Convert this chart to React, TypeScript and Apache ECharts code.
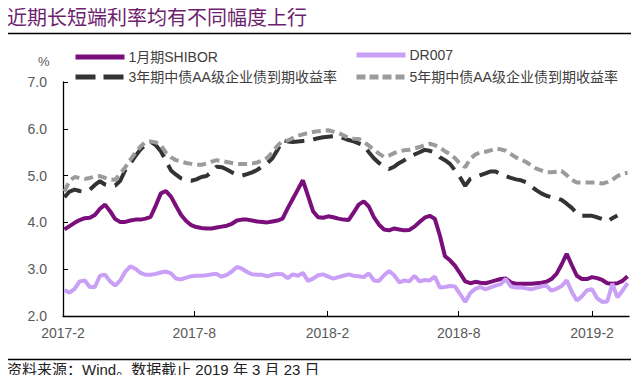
import React, { useEffect, useRef } from "react";
import * as echarts from "echarts";

const TITLE = "近期长短端利率均有不同幅度上行";
const SOURCE = "资料来源：Wind。数据截止 2019 年 3 月 23 日";
const UNIT = "%";
const SERIES_NAMES = [
  "1月期SHIBOR",
  "DR007",
  "3年期中债AA级企业债到期收益率",
  "5年期中债AA级企业债到期收益率",
];
// days since 2017-02-01
const X_TICK_DAYS = [0, 181, 365, 546, 730];
const X_TICK_LABELS = ["2017-2", "2017-8", "2018-2", "2018-8", "2019-2"];
const X_MAX_DAY = 781;
const FIRST_DAY = 2; // 2017-02-03
const STEP_DAYS = 7; // weekly observations
const Y_MIN = 2;
const Y_MAX = 7;
const Y_STEP = 1;

const shibor1m = [
  3.85, 3.92, 3.99, 4.05, 4.09, 4.1, 4.16, 4.29, 4.38, 4.24,
  4.07, 4.01, 4.01, 4.04, 4.06, 4.06, 4.08, 4.12, 4.36, 4.62,
  4.67, 4.55, 4.35, 4.16, 4.03, 3.94, 3.9, 3.88, 3.87, 3.87,
  3.89, 3.91, 3.93, 3.97, 4.04, 4.06, 4.06, 4.04, 4.02, 4.01,
  4.0, 4.02, 4.04, 4.08, 4.3, 4.5, 4.7, 4.9, 4.57, 4.24,
  4.11, 4.1, 4.13, 4.11, 4.08, 4.06, 4.05, 4.21, 4.38, 4.45,
  4.34, 4.11, 3.95, 3.85, 3.83, 3.87, 3.85, 3.83, 3.84, 3.91,
  4.01, 4.1, 4.14, 4.08, 3.72, 3.28, 3.19, 3.07, 2.91, 2.74,
  2.7, 2.73, 2.71, 2.7, 2.73, 2.76, 2.79, 2.8, 2.72, 2.69,
  2.69, 2.69, 2.69, 2.7, 2.71, 2.73, 2.79, 2.9, 3.1, 3.33,
  3.09, 2.86, 2.79, 2.79, 2.83, 2.81, 2.77, 2.7, 2.69, 2.7,
  2.75, 2.85,
];

const dr007 = [
  2.55, 2.5, 2.58, 2.74, 2.76, 2.62, 2.62, 2.86, 2.88, 2.74,
  2.65, 2.76, 2.95, 3.06, 3.01, 2.92, 2.88, 2.88, 2.9, 2.93,
  2.95, 2.91, 2.8, 2.78, 2.82, 2.85, 2.86, 2.86, 2.87, 2.89,
  2.9, 2.84, 2.88, 2.95, 3.05, 3.01, 2.94, 2.89, 2.88, 2.88,
  2.85, 2.88, 2.9, 2.89, 2.81, 2.89, 2.86, 2.92, 2.75, 2.8,
  2.87, 2.89, 2.84, 2.8, 2.83, 2.86, 2.89, 2.86, 2.85, 2.83,
  2.91, 2.76, 2.75, 2.87, 2.96, 2.87, 2.72, 2.76, 2.74, 2.86,
  2.74, 2.77, 2.76, 2.84, 2.61, 2.62, 2.64, 2.63, 2.47, 2.3,
  2.49, 2.58, 2.62, 2.57, 2.61, 2.65, 2.68, 2.79, 2.63, 2.61,
  2.61, 2.59, 2.57, 2.6, 2.63, 2.65, 2.54, 2.58, 2.64, 2.76,
  2.52, 2.33, 2.42, 2.55, 2.57, 2.38, 2.3, 2.31, 2.69, 2.4,
  2.54, 2.7,
];

const aa3y = [
  4.54, 4.66, 4.7, 4.67, 4.66, 4.7, 4.8, 4.88, 4.81, 4.78,
  4.79, 4.89, 5.12, 5.26, 5.42, 5.56, 5.66, 5.72, 5.65, 5.52,
  5.32, 5.11, 5.02, 4.94, 4.9, 4.89, 4.92, 4.97, 4.99, 5.08,
  5.19, 5.18, 5.13, 5.07, 5.02, 5.0, 5.03, 5.07, 5.12, 5.2,
  5.27, 5.37, 5.55, 5.76, 5.73, 5.72, 5.73, 5.74, 5.75, 5.77,
  5.8, 5.82, 5.83, 5.84, 5.84, 5.8, 5.76, 5.73, 5.69, 5.65,
  5.5, 5.37, 5.27, 5.2, 5.14, 5.19, 5.27, 5.33, 5.4, 5.45,
  5.5, 5.55, 5.53, 5.49, 5.39, 5.33, 5.25, 5.11, 4.96, 4.78,
  4.93, 4.97, 5.01, 5.05, 5.09, 5.09, 5.03, 4.99, 4.95, 4.92,
  4.9, 4.86, 4.77, 4.69, 4.62, 4.57, 4.54, 4.52, 4.48, 4.4,
  4.31, 4.2, 4.14, 4.14, 4.14, 4.11, 4.07, 4.02, 4.09, 4.15,
];

const aa5y = [
  4.66, 4.89, 4.97, 4.95, 4.93, 4.95, 4.98, 4.99, 4.95, 4.92,
  4.91, 5.04, 5.18, 5.34, 5.49, 5.62, 5.72, 5.73, 5.71, 5.65,
  5.49, 5.39, 5.33, 5.3, 5.27, 5.25, 5.23, 5.23, 5.26, 5.3,
  5.33, 5.31, 5.29, 5.27, 5.25, 5.25, 5.25, 5.26, 5.28, 5.32,
  5.38, 5.5, 5.64, 5.74, 5.75, 5.8, 5.85, 5.88, 5.91, 5.93,
  5.95, 5.96, 5.97, 5.94, 5.91, 5.86, 5.81, 5.79, 5.78, 5.72,
  5.64, 5.55, 5.47, 5.4, 5.43, 5.48, 5.52, 5.54, 5.55, 5.58,
  5.61, 5.65, 5.68, 5.65, 5.6, 5.52, 5.46, 5.37, 5.25, 5.18,
  5.36, 5.45, 5.5, 5.51, 5.54, 5.58, 5.56, 5.53, 5.46, 5.39,
  5.34, 5.29, 5.22, 5.15, 5.11, 5.07, 5.07, 5.08, 5.1, 5.01,
  4.91, 4.85, 4.85, 4.85, 4.85, 4.85, 4.83, 4.86, 4.91, 4.99,
  5.04, 5.06,
];

const COLORS = ["#7a0f7c", "#c9a0f6", "#333333", "#9b9b9b"];

const toPairs = (vals: number[]) => vals.map((v, i) => [FIRST_DAY + STEP_DAYS * i, v]);

export default function App() {
  const ref = useRef<HTMLDivElement>(null);
  useEffect(() => {
    if (!ref.current) return;
    const chart = echarts.init(ref.current, undefined, { renderer: "svg" });
    const font = "'Liberation Sans', Arial, 'Noto Sans CJK SC', sans-serif";
    const legendBase = (name: string, left: number, top: number, dash: any) => ({
      data: [name],
      left,
      top,
      itemWidth: 49,
      itemHeight: 14,
      itemGap: 4,
      padding: 0,
      selectedMode: false,
      itemStyle: { opacity: 0 },
      lineStyle: { width: 5, type: dash },
      textStyle: { fontSize: 14, color: "#404040", fontFamily: font, padding: [0, 0, 0, -1] },
    });
    const lineSeries = (idx: number, data: number[], lineType: any, width: number) => ({
      name: SERIES_NAMES[idx],
      type: "line",
      data: toPairs(data),
      showSymbol: false,
      symbol: "none",
      smooth: false,
      lineStyle: { color: COLORS[idx], width, type: lineType },
      itemStyle: { color: COLORS[idx] },
      z: 2 + idx,
    });
    chart.setOption({
      animation: false,
      backgroundColor: "#ffffff",
      grid: { left: 63, right: 10, top: 82, bottom: 67, containLabel: false },
      legend: [
        legendBase(SERIES_NAMES[0], 73, 50, "solid"),
        legendBase(SERIES_NAMES[1], 354, 48, "solid"),
        legendBase(SERIES_NAMES[2], 73, 70, [20, 8]),
        legendBase(SERIES_NAMES[3], 354, 70, [9, 4]),
      ],
      xAxis: {
        type: "value",
        min: 0,
        max: X_MAX_DAY,
        axisLine: { show: true, lineStyle: { color: "#000", width: 1.3 } },
        axisTick: {
          show: true,
          inside: true,
          length: 5,
          customValues: X_TICK_DAYS,
          lineStyle: { color: "#000", width: 1 },
        },
        axisLabel: {
          customValues: X_TICK_DAYS,
          formatter: (v: number) => {
            const k = X_TICK_DAYS.indexOf(Math.round(v));
            return k >= 0 ? X_TICK_LABELS[k] : "";
          },
          fontSize: 14,
          color: "#595959",
          fontFamily: font,
          margin: 10,
        },
        splitLine: { show: false },
      },
      yAxis: {
        type: "value",
        min: Y_MIN,
        max: Y_MAX,
        interval: Y_STEP,
        axisLine: { show: true, lineStyle: { color: "#000", width: 1.3 } },
        axisTick: { show: true, inside: true, length: 5, lineStyle: { color: "#000", width: 1 } },
        axisLabel: {
          formatter: (v: number) => v.toFixed(1),
          fontSize: 14,
          color: "#595959",
          fontFamily: font,
          margin: 16,
        },
        splitLine: { show: false },
      },
      series: [
        lineSeries(0, shibor1m, "solid", 4),
        lineSeries(1, dr007, "solid", 4),
        lineSeries(2, aa3y, [20, 9], 4),
        lineSeries(3, aa5y, [9, 5], 4),
      ],
      graphic: [
        {
          type: "text",
          left: 7,
          top: 6,
          style: {
            text: TITLE,
            fontSize: 20,
            fill: "#6e1f70",
            fontFamily: "'Noto Sans CJK SC', sans-serif",
          },
        },
        {
          type: "line",
          shape: { x1: 5, y1: 33.5, x2: 639, y2: 33.5 },
          style: { stroke: "#000", lineWidth: 1.5 },
        },
        {
          type: "text",
          left: 38,
          top: 55,
          style: { text: UNIT, fontSize: 13, fill: "#595959", fontFamily: font },
        },
        {
          type: "line",
          shape: { x1: 5, y1: 359.5, x2: 639, y2: 359.5 },
          style: { stroke: "#000", lineWidth: 1.5 },
        },
        {
          type: "text",
          left: 7,
          top: 362,
          style: {
            text: SOURCE,
            fontSize: 15,
            fill: "#222",
            fontFamily: font,
          },
        },
      ],
    });
    return () => chart.dispose();
  }, []);
  return <div ref={ref} style={{ width: 639, height: 383, margin: -8 }} />;
}
